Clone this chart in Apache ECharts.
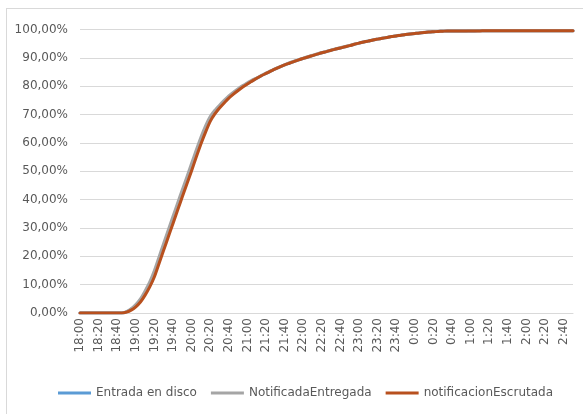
<!DOCTYPE html>
<html><head><meta charset="utf-8">
<script src="https://cdn.jsdelivr.net/npm/echarts@6/dist/echarts.min.js"></script>
<style>
html,body{margin:0;padding:0;background:#fff;}
#frame{position:absolute;left:6px;top:8px;width:600px;height:420px;border-left:1px solid #d9d9d9;border-top:1px solid #d9d9d9;}
#c{position:absolute;left:0;top:0;width:583px;height:414px;}
</style></head>
<body>
<div id="frame"></div>
<div id="c"></div>
<script>
var categories = [
"18:00","18:05","18:10","18:15","18:20","18:25","18:30","18:35","18:40","18:45","18:50","18:55",
"19:00","19:05","19:10","19:15","19:20","19:25","19:30","19:35","19:40","19:45","19:50","19:55",
"20:00","20:05","20:10","20:15","20:20","20:25","20:30","20:35","20:40","20:45","20:50","20:55",
"21:00","21:05","21:10","21:15","21:20","21:25","21:30","21:35","21:40","21:45","21:50","21:55",
"22:00","22:05","22:10","22:15","22:20","22:25","22:30","22:35","22:40","22:45","22:50","22:55",
"23:00","23:05","23:10","23:15","23:20","23:25","23:30","23:35","23:40","23:45","23:50","23:55",
"0:00","0:05","0:10","0:15","0:20","0:25","0:30","0:35","0:40","0:45","0:50","0:55",
"1:00","1:05","1:10","1:15","1:20","1:25","1:30","1:35","1:40","1:45","1:50","1:55",
"2:00","2:05","2:10","2:15","2:20","2:25","2:30","2:35","2:40","2:45","2:50"];

var seriesNames = ["Entrada en disco","NotificadaEntregada","notificacionEscrutada"];

var entradaEnDisco = [
0,0,0,0,0,0,0,0,0,0,0.4,1.3,
2.6,4.5,7.1,10.2,14.0,18.8,23.5,28.2,32.9,37.6,42.3,46.9,
51.5,56.3,60.9,65.0,68.5,70.9,72.8,74.5,76.2,77.5,78.8,80.0,
80.9,81.9,82.8,83.7,84.5,85.3,86.1,86.8,87.5,88.1,88.7,89.3,
89.8,90.3,90.8,91.3,91.8,92.2,92.7,93.1,93.5,93.9,94.3,94.8,
95.2,95.6,95.9,96.3,96.6,96.9,97.2,97.5,97.7,98.0,98.2,98.4,
98.6,98.8,98.9,99.1,99.2,99.3,99.4,99.5,99.5,99.5,99.5,99.5,
99.5,99.5,99.6,99.6,99.6,99.6,99.6,99.6,99.6,99.6,99.6,99.6,
99.6,99.6,99.6,99.6,99.6,99.6,99.6,99.6,99.6,99.6,99.6];

var notificadaEntregada = [
0,0,0,0,0,0,0,0,0,0,0.5,1.5,
3.0,5.0,7.8,11.0,15.0,19.8,24.6,29.4,34.1,38.8,43.5,48.1,
52.8,57.5,62.0,66.0,69.3,71.5,73.3,75.0,76.6,77.9,79.1,80.2,
81.2,82.2,82.9,83.8,84.6,85.4,86.1,86.9,87.5,88.2,88.8,89.3,
89.9,90.4,90.9,91.4,91.8,92.3,92.7,93.2,93.6,94.0,94.4,94.8,
95.2,95.6,96.0,96.3,96.6,96.9,97.2,97.5,97.8,98.0,98.2,98.4,
98.6,98.8,99.0,99.1,99.2,99.3,99.4,99.5,99.5,99.5,99.5,99.5,
99.6,99.6,99.6,99.6,99.6,99.6,99.6,99.6,99.6,99.6,99.6,99.6,
99.6,99.6,99.6,99.6,99.6,99.6,99.6,99.6,99.6,99.6,99.6];

var notificacionEscrutada = [
0,0,0,0,0,0,0,0,0,0,0.3,1.0,
2.2,3.9,6.3,9.2,12.8,17.5,22.2,26.9,31.6,36.3,41.0,45.6,
50.2,55.0,59.6,63.8,67.6,70.2,72.3,74.1,75.8,77.2,78.5,79.7,
80.8,81.8,82.8,83.7,84.5,85.3,86.1,86.8,87.5,88.1,88.7,89.3,
89.8,90.3,90.8,91.3,91.8,92.2,92.7,93.1,93.5,93.9,94.3,94.8,
95.2,95.6,95.9,96.3,96.6,96.9,97.2,97.5,97.7,98.0,98.2,98.4,
98.6,98.8,98.9,99.1,99.2,99.3,99.4,99.5,99.5,99.5,99.5,99.5,
99.5,99.5,99.5,99.6,99.6,99.6,99.6,99.6,99.6,99.6,99.6,99.6,
99.6,99.6,99.6,99.6,99.6,99.6,99.6,99.6,99.6,99.6,99.6];

var colors = ["#5B9BD5","#A5A5A5","#B8501E"];
var FONT = "DejaVu Sans";

var chart = echarts.init(document.getElementById('c'), null, {renderer:'canvas'});
function mk(name, data, color, z){
  return {name:name, type:'line', data:data, showSymbol:false, symbol:'none', smooth:0.2,
    lineStyle:{color:color, width:3, cap:'round', join:'round'}, itemStyle:{color:color}, z:z, animation:false};
}
chart.setOption({
  animation:false,
  backgroundColor:'transparent',
  grid:{left:80, right:10, top:29.5, bottom:101, containLabel:false},
  legend:{
    left:53, top:382, itemGap:14, itemWidth:33, itemHeight:3, icon:'rect',
    textStyle:{fontFamily:FONT, fontSize:12, color:'#595959'},
    data:seriesNames
  },
  xAxis:{
    type:'category', data:categories, boundaryGap:false,
    axisLine:{show:true, lineStyle:{color:'#d9d9d9', width:1}},
    axisTick:{show:false},
    splitLine:{show:false},
    axisLabel:{rotate:90, interval:3, margin:5, fontFamily:FONT, fontSize:12, color:'#595959'}
  },
  yAxis:{
    type:'value', min:0, max:100, interval:10,
    axisLine:{show:false}, axisTick:{show:false},
    splitLine:{lineStyle:{color:'#d9d9d9', width:1}},
    axisLabel:{margin:12, fontFamily:FONT, fontSize:12, color:'#595959',
      formatter:function(v){return v.toFixed(2).replace('.',',')+'%';}}
  },
  series:[
    mk(seriesNames[0], entradaEnDisco, colors[0], 2),
    mk(seriesNames[1], notificadaEntregada, colors[1], 3),
    mk(seriesNames[2], notificacionEscrutada, colors[2], 4)
  ]
});
</script>
</body></html>
